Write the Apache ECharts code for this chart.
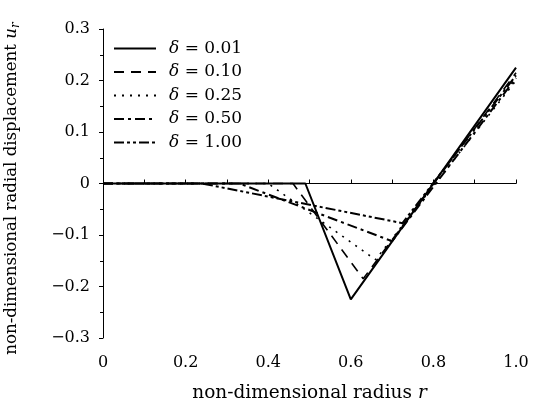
<!DOCTYPE html>
<html><head><meta charset="utf-8">
<script src="https://cdn.jsdelivr.net/npm/echarts@6/dist/echarts.min.js"></script>
<style>html,body{margin:0;padding:0;background:#fff}#c{width:539px;height:403px}</style>
</head><body><div id="c"></div>
<script>
var deltaLabels = ['0.01', '0.10', '0.25', '0.50', '1.00'];
var r001 = [0, 0.49, 0.60, 1.00];
var u001 = [0, 0, -0.225, 0.225];
var r010 = [0, 0.46, 0.63, 1.00];
var u010 = [0, 0, -0.185, 0.215];
var r025 = [0, 0.40, 0.66, 1.00];
var u025 = [0, 0, -0.148, 0.200];
var r050 = [0, 0.33, 0.70, 1.00];
var u050 = [0, 0, -0.112, 0.205];
var r100 = [0, 0.24, 0.725, 1.00];
var u100 = [0, 0, -0.077, 0.210];
var xTicks = [0, 0.2, 0.4, 0.6, 0.8, 1.0];
var xTickLabels = ['0', '0.2', '0.4', '0.6', '0.8', '1.0'];
var yTicks = [-0.3, -0.2, -0.1, 0, 0.1, 0.2, 0.3];
var yTickLabels = ['\u22120.3', '\u22120.2', '\u22120.1', '0', '0.1', '0.2', '0.3'];

var FONT = 'DejaVu Serif';
function pairs(xs, ys) { return xs.map(function (x, i) { return [x, ys[i]]; }); }
function lookup(ticks, labels, v) {
  for (var i = 0; i < ticks.length; i++) if (Math.abs(ticks[i] - v) < 1e-9) return labels[i];
  return '';
}
var styles = [
  {type: 'solid', width: 2},
  {type: [10, 7], width: 1.6},
  {type: [2, 6], width: 1.6},
  {type: [10, 4, 3, 4], width: 2},
  {type: [10, 3, 3, 3, 3, 3], width: 2}
];
var rs = [r001, r010, r025, r050, r100];
var us = [u001, u010, u025, u050, u100];
var series = deltaLabels.map(function (d, i) {
  return {
    name: d, type: 'line', showSymbol: false, symbol: 'none',
    data: pairs(rs[i], us[i]),
    lineStyle: {color: '#000', width: styles[i].width, type: styles[i].type},
    itemStyle: {color: '#000'}
  };
});
var chart = echarts.init(document.getElementById('c'));
chart.setOption({
  animation: false,
  backgroundColor: '#fff',
  grid: {left: 103, right: 23, top: 29, bottom: 65, containLabel: false, outerBoundsMode: 'none'},
  legend: {
    left: 108, top: 35, orient: 'vertical', itemWidth: 42, itemHeight: 12, itemGap: 6.5,
    data: deltaLabels,
    itemStyle: {opacity: 0},
    formatter: function (n) { return '{i|\u03b4} = ' + n; },
    textStyle: {fontFamily: FONT, fontSize: 17, color: '#000', padding: [0, 0, 0, 8],
      rich: {i: {fontFamily: FONT, fontStyle: 'italic', fontSize: 17, color: '#000'}}}
  },
  xAxis: {
    type: 'value', min: 0, max: 1, interval: 0.2,
    name: 'non-dimensional radius {i|r}', nameLocation: 'middle', nameGap: 46,
    nameTextStyle: {fontFamily: FONT, fontSize: 18.5, color: '#000',
      rich: {i: {fontFamily: FONT, fontStyle: 'italic', fontSize: 18.5, color: '#000'}}},
    axisLine: {lineStyle: {color: '#000', width: 1}},
    axisTick: {inside: true, length: 4, lineStyle: {color: '#000'}},
    minorTick: {show: true, splitNumber: 2, length: 4, lineStyle: {color: '#000'}},
    splitLine: {show: false},
    axisLabel: {fontFamily: FONT, fontSize: 16, color: '#000', margin: 17,
      formatter: function (v) { return lookup(xTicks, xTickLabels, v); }}
  },
  yAxis: {
    type: 'value', min: -0.3, max: 0.3, interval: 0.1,
    name: 'non-dimensional radial displacement {i|u}{s|r}', nameLocation: 'middle', nameGap: 81, nameRotate: 90,
    nameTextStyle: {fontFamily: FONT, fontSize: 16.6, color: '#000', padding: [0, 10, 0, 0],
      rich: {i: {fontFamily: FONT, fontStyle: 'italic', fontSize: 16.6, color: '#000'},
             s: {fontFamily: FONT, fontStyle: 'italic', fontSize: 12, color: '#000', verticalAlign: 'bottom', padding: [8, 0, 0, 0]}}},
    axisLine: {show: true, lineStyle: {color: '#000', width: 1}},
    axisTick: {inside: false, length: 4, lineStyle: {color: '#000'}},
    minorTick: {show: true, splitNumber: 2, length: 3, lineStyle: {color: '#000'}},
    splitLine: {show: false},
    axisLabel: {fontFamily: FONT, fontSize: 16, color: '#000', margin: 13,
      formatter: function (v) { return lookup(yTicks, yTickLabels, v); }}
  },
  series: series
});
</script></body></html>
